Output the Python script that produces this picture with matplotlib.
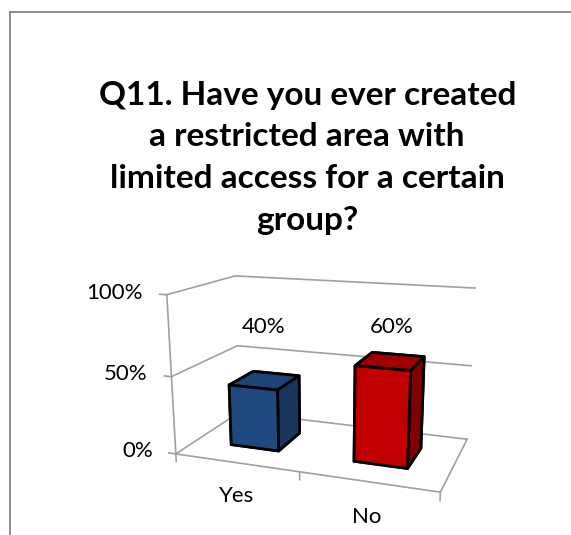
import matplotlib.pyplot as plt
from matplotlib.lines import Line2D

plt.rcParams['font.family'] = ['Lato', 'DejaVu Sans']

# survey answers (percent of respondents)
categories = ['Yes', 'No']
values = [40, 60]
value_labels = ['40%', '60%']
y_ticks = [0, 50, 100]
y_tick_labels = ['0%', '50%', '100%']

# face colours per bar: front, top, side
front_colors = ['#1F497D', '#C00000']
top_colors = ['#1D4476', '#A00000']
side_colors = ['#17375E', '#800000']

title = 'Q11. Have you ever created\na restricted area with\nlimited access for a certain\ngroup?'

fig = plt.figure(figsize=(5.71, 5.35), dpi=100)

# chart area border (only the top and left edges fall inside the image)
grey = '#868686'
fig.add_artist(Line2D([9.5 / 571, 9.5 / 571], [0, 1 - 11.5 / 535], color=grey, lw=1.3))
fig.add_artist(Line2D([9.5 / 571, 1], [1 - 11.5 / 535, 1 - 11.5 / 535], color=grey, lw=1.3))

fig.text(0.538, 0.705, title, ha='center', va='center', fontsize=24,
         fontweight='bold', linespacing=1.53)

ax = fig.add_axes([0.25, -0.035, 0.623, 0.665], projection='3d', computed_zorder=False)
ax.set_proj_type('persp', focal_length=0.38)
ax.view_init(elev=15, azim=-70)
ax.set_box_aspect((1.88, 1, 1.13), zoom=0.934)
ax.set_axis_off()

n = len(categories)
ax.set_xlim(0, n)
ax.set_ylim(0, 1)
ax.set_zlim(0, 100)

line_kw = dict(color='#A0A0A0', lw=1.2, zorder=1)

# walls: gridlines on the back and left walls
for t, lab in zip(y_ticks, y_tick_labels):
    ax.plot([0, 0, n], [0, 1, 1], [t, t, t], **line_kw)
    ax.plot([-0.06, 0], [0, 0], [t, t], **line_kw)
    ax.text(-0.2, 0, t, lab, ha='right', va='center', fontsize=16, zorder=5)
# left axis and floor outline
ax.plot([0, 0], [0, 0], [0, y_ticks[-1]], **line_kw)
ax.plot([0, n, n], [0, 0, 1], [0, 0, 0], **line_kw)
for i in range(n + 1):
    ax.plot([i, i], [0, 0], [0, -5], **line_kw)

# bars
width = 0.4
depth = 0.4
for i, (cat, v) in enumerate(zip(categories, values)):
    x0 = i + 0.5 - width / 2
    # face order in bar3d: bottom, top, front, back, left, right
    faces = [front_colors[i], top_colors[i], front_colors[i], front_colors[i],
             side_colors[i], side_colors[i]]
    ax.bar3d(x0, 0.3, 0, width, depth, v, color=faces, shade=False,
             edgecolor='black', linewidth=2, zorder=2 + i)
    # value labels sit at nearly the same height above both bars
    ax.text(i + 0.5, 0.5, 0.3 * v + 63, value_labels[i], ha='center', va='center',
            fontsize=16, zorder=5)
    ax.text(i + 0.5, 0, -22, cat, ha='center', va='center', fontsize=16, zorder=5)

fig.savefig('out.png', dpi=100)
